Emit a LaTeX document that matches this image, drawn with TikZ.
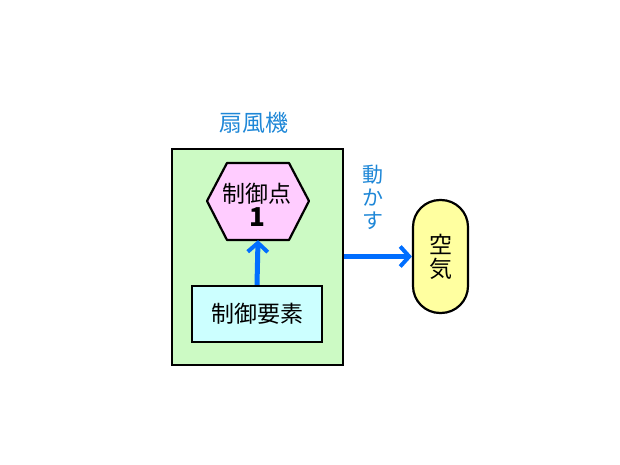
\documentclass[tikz,border=0pt]{standalone}
\usepackage{fontspec}
\setmainfont{Noto Sans CJK JP}
\usetikzlibrary{arrows.meta}
\definecolor{boxgreen}{RGB}{204,250,196}
\definecolor{hexpink}{RGB}{255,204,255}
\definecolor{elemcyan}{RGB}{204,255,255}
\definecolor{airyellow}{RGB}{255,255,160}
\definecolor{arrowblue}{RGB}{0,110,255}
\definecolor{textblue}{RGB}{30,135,215}
\tikzset{
  shapeline/.style={draw=black, line width=2.2pt},
  bigarrow/.style={draw=arrowblue, line width=5pt, -{Straight Barb[length=9pt,width=20pt,line width=4pt]}},
  lbl/.style={font=\fontsize{23}{25}\selectfont, text=black},
}
\begin{document}
\begin{tikzpicture}[x=1pt,y=-1pt]
\useasboundingbox (0,0) rectangle (620,465);
% outer box
\node[shapeline, fill=boxgreen, minimum width=171pt, minimum height=216pt, inner sep=0pt] (fan) at (257.5,257) {};
\node[font=\fontsize{23}{25}\selectfont, text=textblue] (title) at (254,123) {扇風機};
% hexagon
\filldraw[shapeline, fill=hexpink, line join=round] (207,201) -- (227,163) -- (289,163) -- (309,201) -- (289,240) -- (227,240) -- cycle;
\node[minimum width=102pt, minimum height=77pt, inner sep=0pt] (hex) at (258,201.5) {};
\node[lbl, align=center] (hextext) at (257,205) {制御点\\[-1pt]{\fontsize{26}{26}\selectfont\textbf{1}}};
% control element
\node[shapeline, fill=elemcyan, minimum width=130pt, minimum height=56pt, inner sep=0pt, lbl] (elem) at (257,314) {制御要素};
% air
\node[shapeline, fill=airyellow, rounded corners=27pt, minimum width=55pt, minimum height=113pt, inner sep=0pt, font=\fontsize{23}{24}\selectfont, align=center] (air) at (440.5,256.5) {空\\気};
% label
\node[font=\fontsize{21}{23}\selectfont, text=textblue, align=center] (move) at (373,197) {動\\か\\す};
% arrows
\draw[bigarrow] (elem.north) -- (hex.south);
\draw[bigarrow] (fan.east |- air.west) -- (air.west);
\end{tikzpicture}
\end{document}
